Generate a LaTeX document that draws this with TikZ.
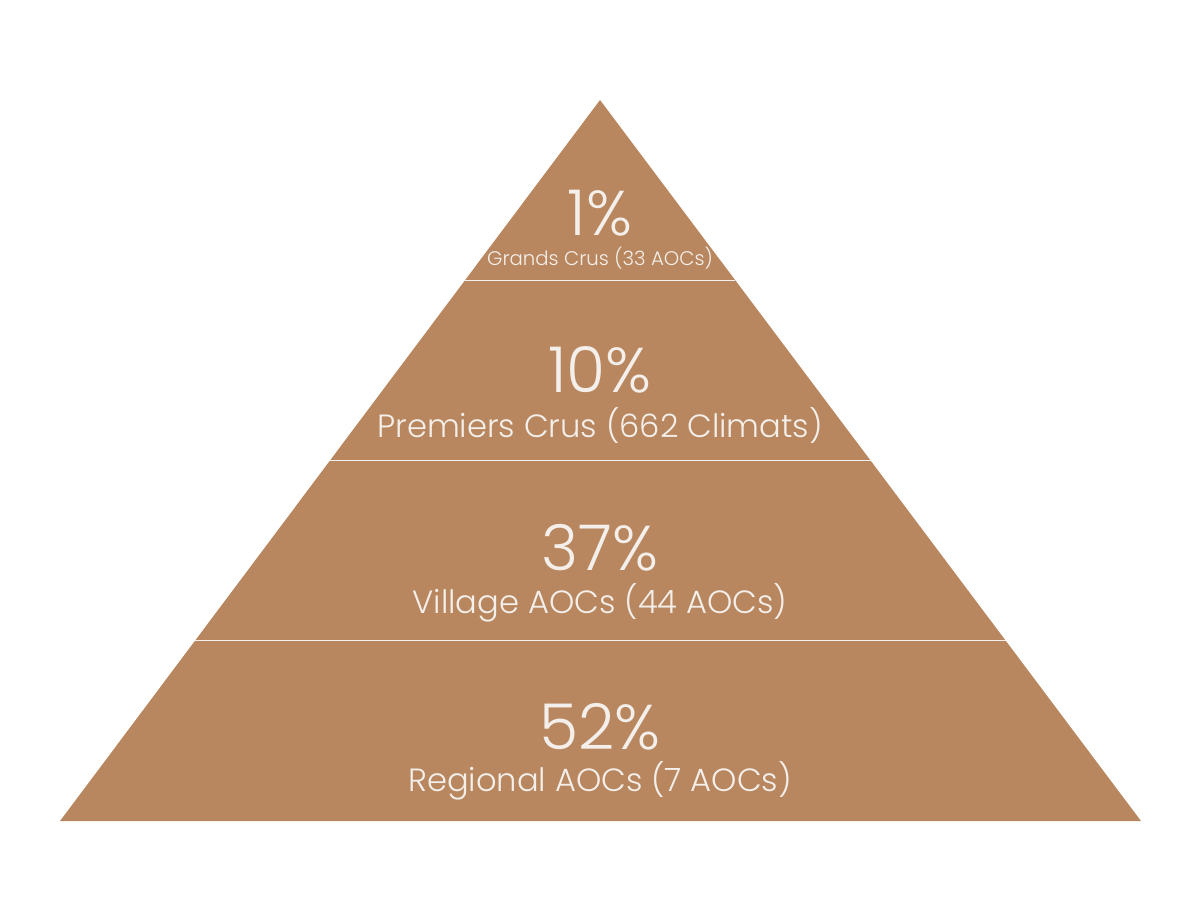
\documentclass[tikz,border=0pt]{standalone}
\usepackage{fontspec}
\setmainfont{Poppins Light}
\usepackage{tikz}
\usetikzlibrary{calc,positioning}

\definecolor{wine}{HTML}{B8875F}
\definecolor{cream}{HTML}{F4EFEA}

\begin{document}
\begin{tikzpicture}[x=0.2mm, y=-0.2mm,
  tier/.style={fill=wine, draw=none},
  sep/.style={draw=cream, line width=0.8pt},
  pct/.style={text=cream, font=\fontsize{36}{38}\selectfont, inner sep=0pt},
  lbl/.style={text=cream, font=\fontsize{18.3}{20}\selectfont, inner sep=0pt},
  lblsm/.style={text=cream, font=\fontsize{11.2}{13}\selectfont, inner sep=0pt},
]
\useasboundingbox (0,0) rectangle (1200,900);

%--- Pyramide ---
\coordinate (apex) at (600,100);
\coordinate (bl) at (60,821);
\coordinate (br) at (1141,821);
\fill[tier] (apex) -- (bl) -- (br) -- cycle;

%--- Separations ---
\foreach \f in {0.25,0.5,0.75}
  \draw[sep] ($(apex)!\f!(bl)$) -- ($(apex)!\f!(br)$);

%--- Grands Crus ---
\node[pct] (p1) at (600,213) {1\%};
\node[lblsm] (l1) at (600,258) {Grands Crus (33 AOCs)};

%--- Premiers Crus ---
\node[pct] (p2) at (600,370) {10\%};
\node[lbl] (l2) at (600,425) {Premiers Crus (662 Climats)};

%--- Village ---
\node[pct] (p3) at (600,548) {37\%};
\node[lbl] (l3) at (600,603) {Village AOCs (44 AOCs)};

%--- Regional ---
\node[pct] (p4) at (600,727) {52\%};
\node[lbl] (l4) at (600,781) {Regional AOCs (7 AOCs)};

\end{tikzpicture}
\end{document}
